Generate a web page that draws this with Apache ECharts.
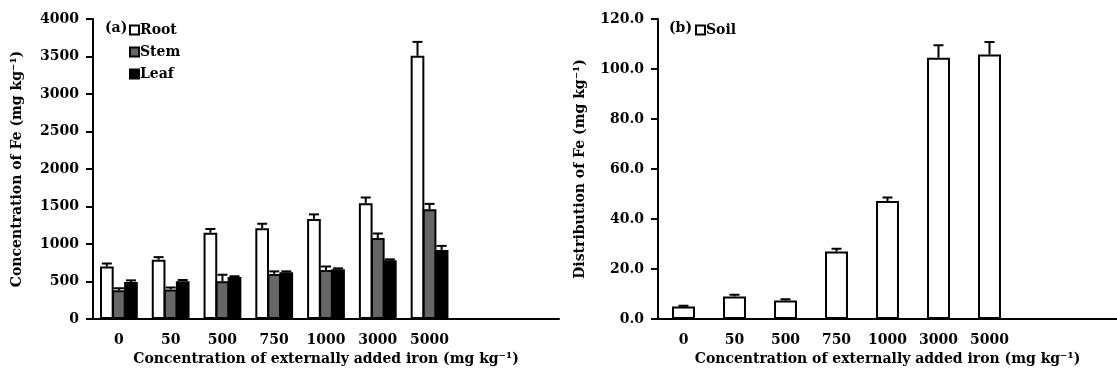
<!DOCTYPE html>
<html>
<head>
<meta charset="utf-8">
<script src="https://cdn.jsdelivr.net/npm/echarts@6/dist/echarts.min.js"></script>
<style>
  html, body { margin: 0; padding: 0; background: #fff; }
  #main { width: 1117px; height: 381px; }
</style>
</head>
<body>
<div id="main"></div>
<script>
// 数据
var categories = ['0', '50', '500', '750', '1000', '3000', '5000', '', ''];
var root = [700, 790, 1150, 1210, 1335, 1545, 3510];
var rootErr = [40, 35, 50, 60, 60, 75, 185];
var stem = [385, 395, 505, 600, 655, 1080, 1465];
var stemErr = [25, 25, 85, 35, 45, 60, 70];
var leaf = [495, 505, 560, 625, 665, 785, 920];
var leafErr = [20, 15, 10, 10, 10, 10, 55];
var soil = [5.0, 9.0, 7.4, 27.0, 47.2, 104.5, 105.8];
var soilErr = [0.3, 0.7, 0.5, 1.1, 1.4, 5.0, 5.0];

var font = 'DejaVu Serif';
var catGap = 0.27;
var barGap = -0.12;

function errData(vals, errs) {
  return vals.map(function (v, i) { return [i, v, errs[i]]; });
}

// 误差线: 只画上半部分
function errRender(seriesIdx, count, gap, bGap) {
  return function (params, api) {
    var i = api.value(0);
    var top = api.coord([i, api.value(1)]);
    var cap = api.coord([i, api.value(1) + api.value(2)]);
    var band = api.size([1, 0])[0];
    var w = band * (1 - gap) / (count + (count - 1) * bGap);
    var group = count * w + (count - 1) * w * bGap;
    var x = top[0] - group / 2 + seriesIdx * w * (1 + bGap) + w / 2;
    var half = Math.min(w * 0.38, 5);
    var style = { stroke: '#000', lineWidth: 2 };
    return {
      type: 'group',
      children: [
        { type: 'line', shape: { x1: x, y1: top[1], x2: x, y2: cap[1] }, style: style },
        { type: 'line', shape: { x1: x - half, y1: cap[1], x2: x + half, y2: cap[1] }, style: style }
      ]
    };
  };
}

var chart = echarts.init(document.getElementById('main'));

var axisText = { color: '#000', fontFamily: font, fontSize: 14, fontWeight: 'bold' };
var nameText = { color: '#000', fontFamily: font, fontSize: 14, fontWeight: 'bold' };
var legendText = { color: '#000', fontFamily: font, fontSize: 14, fontWeight: 'bold', padding: [0, 0, 0, -4] };

function xAxis(gridIndex) {
  return {
    type: 'category', gridIndex: gridIndex, data: categories,
    name: 'Concentration of externally added iron (mg kg⁻¹)',
    nameLocation: 'middle', nameGap: 31, nameTextStyle: nameText,
    axisLine: { lineStyle: { color: '#000', width: 2 } },
    axisTick: { length: 6, lineStyle: { color: '#000', width: 2 } },
    axisLabel: Object.assign({ margin: 14, interval: 0 }, axisText),
    splitLine: { show: false }
  };
}

var barStyle = function (fill) {
  return { color: fill, borderColor: '#000', borderWidth: 2 };
};

var option = {
  animation: false,
  backgroundColor: '#fff',
  title: [
    { text: '(a)', left: 100, top: 16, textStyle: { color: '#000', fontFamily: font, fontSize: 14, fontWeight: 'bold' } },
    { text: '(b)', left: 664, top: 16, textStyle: { color: '#000', fontFamily: font, fontSize: 14, fontWeight: 'bold' } }
  ],
  legend: [
    {
      data: ['Root', 'Stem', 'Leaf'], orient: 'vertical', left: 124, top: 18,
      itemWidth: 9, itemHeight: 9, itemGap: 8, icon: 'rect',
      textStyle: legendText
    },
    {
      data: ['Soil'], orient: 'vertical', left: 690, top: 18,
      itemWidth: 9, itemHeight: 9, icon: 'rect',
      textStyle: legendText
    }
  ],
  grid: [
    { left: 93, top: 19, width: 466, height: 300 },
    { left: 658, top: 19, width: 468, height: 300 }
  ],
  xAxis: [xAxis(0), xAxis(1)],
  yAxis: [
    {
      type: 'value', gridIndex: 0, min: 0, max: 4000, interval: 500,
      name: 'Concentration of Fe (mg kg⁻¹)', nameLocation: 'middle', nameGap: 69,
      nameTextStyle: nameText,
      axisLine: { show: true, lineStyle: { color: '#000', width: 2 } },
      axisTick: { show: true, length: 7, lineStyle: { color: '#000', width: 2 } },
      axisLabel: Object.assign({ margin: 14, formatter: function (v) { return String(v); } }, axisText),
      splitLine: { show: false }
    },
    {
      type: 'value', gridIndex: 1, min: 0, max: 120, interval: 20,
      name: 'Distribution of Fe (mg kg⁻¹)', nameLocation: 'middle', nameGap: 71,
      nameTextStyle: nameText,
      axisLine: { show: true, lineStyle: { color: '#000', width: 2 } },
      axisTick: { show: true, length: 7, lineStyle: { color: '#000', width: 2 } },
      axisLabel: Object.assign({ margin: 14, formatter: function (v) { return v.toFixed(1); } }, axisText),
      splitLine: { show: false }
    }
  ],
  series: [
    {
      name: 'Root', type: 'bar', xAxisIndex: 0, yAxisIndex: 0, data: root,
      barGap: (barGap * 100) + '%', barCategoryGap: (catGap * 100) + '%',
      itemStyle: barStyle('#fff')
    },
    {
      name: 'Stem', type: 'bar', xAxisIndex: 0, yAxisIndex: 0, data: stem,
      barGap: (barGap * 100) + '%', barCategoryGap: (catGap * 100) + '%',
      itemStyle: barStyle('#666')
    },
    {
      name: 'Leaf', type: 'bar', xAxisIndex: 0, yAxisIndex: 0, data: leaf,
      barGap: (barGap * 100) + '%', barCategoryGap: (catGap * 100) + '%',
      itemStyle: barStyle('#000')
    },
    {
      type: 'custom', xAxisIndex: 0, yAxisIndex: 0, z: 3,
      renderItem: errRender(0, 3, catGap, barGap), data: errData(root, rootErr), encode: { x: 0, y: 1 }
    },
    {
      type: 'custom', xAxisIndex: 0, yAxisIndex: 0, z: 3,
      renderItem: errRender(1, 3, catGap, barGap), data: errData(stem, stemErr), encode: { x: 0, y: 1 }
    },
    {
      type: 'custom', xAxisIndex: 0, yAxisIndex: 0, z: 3,
      renderItem: errRender(2, 3, catGap, barGap), data: errData(leaf, leafErr), encode: { x: 0, y: 1 }
    },
    {
      name: 'Soil', type: 'bar', xAxisIndex: 1, yAxisIndex: 1, data: soil,
      barWidth: '45%',
      itemStyle: barStyle('#fff')
    },
    {
      type: 'custom', xAxisIndex: 1, yAxisIndex: 1, z: 3,
      renderItem: errRender(0, 1, 0.55, 0), data: errData(soil, soilErr), encode: { x: 0, y: 1 }
    }
  ]
};

chart.setOption(option);
</script>
</body>
</html>
